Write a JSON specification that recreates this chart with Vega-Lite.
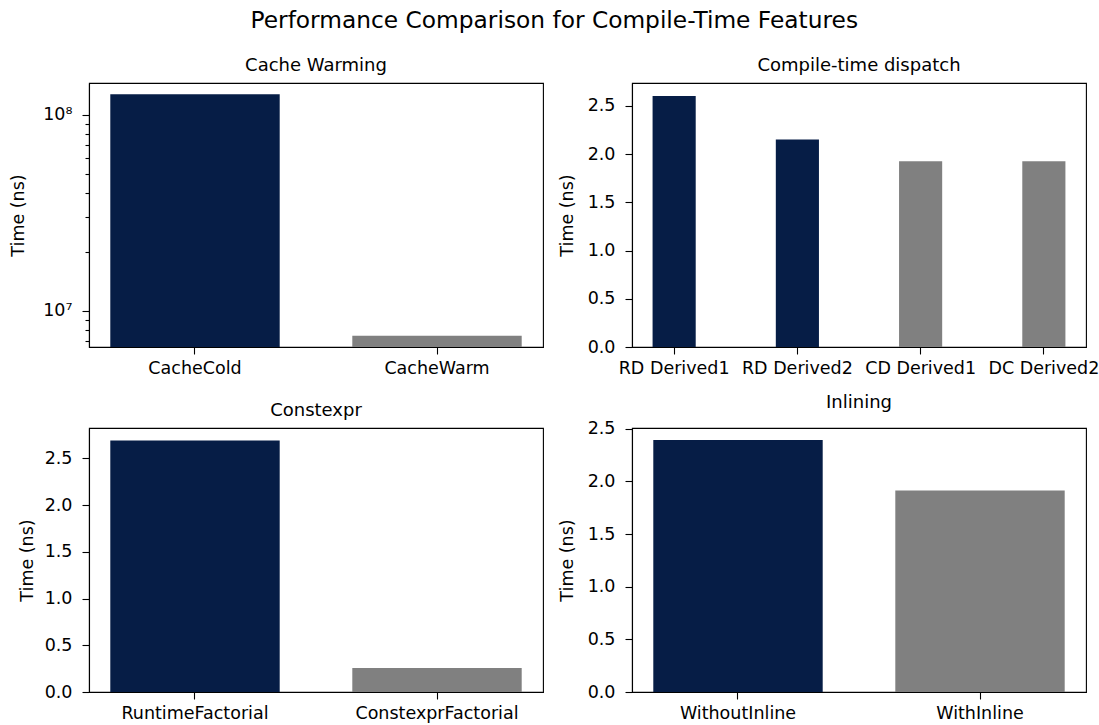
{
  "$schema": "https://vega.github.io/schema/vega-lite/v6.json",
  "title": {"text": "Performance Comparison for Compile-Time Features", "fontSize": 23.3, "font": "DejaVu Sans", "fontWeight": "normal", "color": "black", "anchor": "middle", "offset": 23, "frame": "bounds"},
  "padding": {"left": 9, "top": 9, "right": 0, "bottom": 0},
  "columns": 2,
  "spacing": {"row": 15, "column": 13},
  "config": {
    "font": "DejaVu Sans",
    "view": {"stroke": "black", "strokeWidth": 1.1},
    "axis": {"domainColor": "black", "domainWidth": 1.1, "tickColor": "black", "tickSize": 7, "tickWidth": 1.1, "labelFontSize": 17.5, "labelColor": "black", "labelFont": "DejaVu Sans", "titleFont": "DejaVu Sans", "titleFontSize": 17.5, "titleFontWeight": "normal", "titleColor": "black", "grid": false, "labelPadding": 10, "titlePadding": 11},
    "axisX": {"labelAngle": 0, "title": null, "labelPadding": 5},
    "title": {"fontSize": 18, "fontWeight": "normal", "color": "black", "offset": 8, "font": "DejaVu Sans", "frame": "group"}
  },
  "concat": [
    {
      "width": 454, "height": 264,
      "title": "Cache Warming",
      "data": {"values": [
        {"benchmark": "CacheCold", "time_ns": 127500000, "variant": "baseline"},
        {"benchmark": "CacheWarm", "time_ns": 7480000, "variant": "optimized"}
      ]},
      "mark": {"type": "bar"},
      "encoding": {
        "x": {"field": "benchmark", "type": "nominal", "sort": null, "scale": {"paddingInner": 0.3, "paddingOuter": 0.088}},
        "y": {"field": "time_ns", "type": "quantitative",
          "scale": {"type": "log", "domain": [6550000, 145600000], "nice": false},
          "axis": {"title": "Time (ns)", "titlePadding": 15, "labelOverlap": false,
            "values": [7000000, 8000000, 9000000, 10000000, 20000000, 30000000, 40000000, 50000000, 60000000, 70000000, 80000000, 90000000, 100000000],
            "labelExpr": "datum.value == 10000000 ? '10⁷' : (datum.value == 100000000 ? '10⁸' : '')",
            "tickSize": {"condition": {"test": "datum.value == 10000000 || datum.value == 100000000", "value": 7}, "value": 4}}},
        "y2": {"datum": 6550000},
        "color": {"field": "variant", "type": "nominal", "scale": {"domain": ["baseline", "optimized"], "range": ["#061d46", "#808080"]}, "legend": null}
      }
    },
    {
      "width": 454, "height": 264,
      "title": "Compile-time dispatch",
      "data": {"values": [
        {"benchmark": "RD Derived1", "time_ns": 2.6, "variant": "baseline"},
        {"benchmark": "RD Derived2", "time_ns": 2.15, "variant": "baseline"},
        {"benchmark": "CD Derived1", "time_ns": 1.925, "variant": "optimized"},
        {"benchmark": "DC Derived2", "time_ns": 1.925, "variant": "optimized"}
      ]},
      "mark": {"type": "bar"},
      "encoding": {
        "x": {"field": "benchmark", "type": "nominal", "sort": null, "scale": {"paddingInner": 0.65, "paddingOuter": 0.167}},
        "y": {"field": "time_ns", "type": "quantitative",
          "scale": {"domain": [0, 2.736], "nice": false},
          "axis": {"title": "Time (ns)", "values": [0, 0.5, 1, 1.5, 2, 2.5], "format": ".1f"}},
        "color": {"field": "variant", "type": "nominal", "scale": {"domain": ["baseline", "optimized"], "range": ["#061d46", "#808080"]}, "legend": null}
      }
    },
    {
      "width": 454, "height": 264,
      "title": "Constexpr",
      "data": {"values": [
        {"benchmark": "RuntimeFactorial", "time_ns": 2.69, "variant": "baseline"},
        {"benchmark": "ConstexprFactorial", "time_ns": 0.256, "variant": "optimized"}
      ]},
      "mark": {"type": "bar"},
      "encoding": {
        "x": {"field": "benchmark", "type": "nominal", "sort": null, "scale": {"paddingInner": 0.3, "paddingOuter": 0.088}},
        "y": {"field": "time_ns", "type": "quantitative",
          "scale": {"domain": [0, 2.824], "nice": false},
          "axis": {"title": "Time (ns)", "titlePadding": 8, "values": [0, 0.5, 1, 1.5, 2, 2.5], "format": ".1f"}},
        "color": {"field": "variant", "type": "nominal", "scale": {"domain": ["baseline", "optimized"], "range": ["#061d46", "#808080"]}, "legend": null}
      }
    },
    {
      "width": 454, "height": 264,
      "title": "Inlining",
      "data": {"values": [
        {"benchmark": "WithoutInline", "time_ns": 2.393, "variant": "baseline"},
        {"benchmark": "WithInline", "time_ns": 1.914, "variant": "optimized"}
      ]},
      "mark": {"type": "bar"},
      "encoding": {
        "x": {"field": "benchmark", "type": "nominal", "sort": null, "scale": {"paddingInner": 0.3, "paddingOuter": 0.088}},
        "y": {"field": "time_ns", "type": "quantitative",
          "scale": {"domain": [0, 2.507], "nice": false},
          "axis": {"title": "Time (ns)", "values": [0, 0.5, 1, 1.5, 2, 2.5], "format": ".1f"}},
        "color": {"field": "variant", "type": "nominal", "scale": {"domain": ["baseline", "optimized"], "range": ["#061d46", "#808080"]}, "legend": null}
      }
    }
  ]
}
